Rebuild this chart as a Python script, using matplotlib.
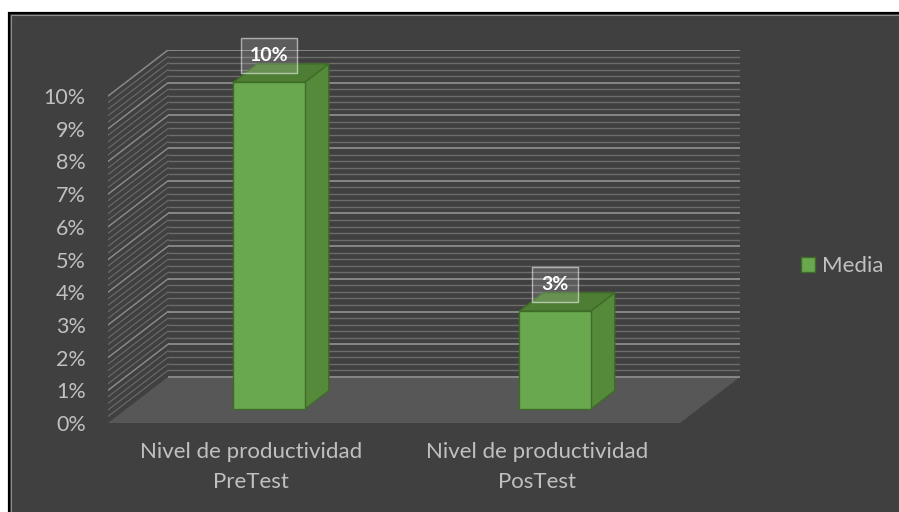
import matplotlib
matplotlib.use("Agg")
import matplotlib.pyplot as plt
from matplotlib.patches import Polygon, Rectangle, Patch

categories = ["Nivel de productividad\nPreTest", "Nivel de productividad\nPosTest"]
media = [10, 3]          # percent
value_labels = ["10%", "3%"]
yticks = list(range(0, 11))
series_name = "Media"

# oblique "3D" look: depth offset of the back wall in data units
DX, DY = 0.21, 1.41
D0, D1 = 0.30, 0.70      # bar front / back depth fractions
BAR_W = 0.25
BG = "#404040"
TXT = "#c0c0c0"
FRONT, SIDE, TOP, EDGE = "#6aa84f", "#558a3a", "#4e7d34", "#3e6b27"
FS = 16

plt.rcParams["font.family"] = ["Lato", "DejaVu Sans"]

fig = plt.figure(figsize=(8.99, 5.12), dpi=100, facecolor="white")
# chart area with a dark fill and a thin black frame
fig.patches.append(Rectangle((9 / 899, -0.01), 1.1, 1 - 13 / 512 + 0.01, transform=fig.transFigure,
                             facecolor=BG, edgecolor="black", lw=1.6, zorder=-2))
fig.patches.append(Rectangle((10.5 / 899, -0.01), 1.1, 1 - 14.5 / 512 + 0.01, transform=fig.transFigure,
                             facecolor="none", edgecolor="#8c8c8c", lw=0.8, zorder=-1))

ax = fig.add_axes([108 / 899, 89 / 512, 632 / 899, 373 / 512])
ax.set_facecolor("none")
ax.set_xlim(-0.5, 1.5 + DX)
ax.set_ylim(0, 10 + DY)
for s in ax.spines.values():
    s.set_visible(False)

# floor
ax.add_patch(Polygon([(-0.5, 0), (1.5, 0), (1.5 + DX, DY), (-0.5 + DX, DY)],
                     closed=True, facecolor="#575757", edgecolor="none", zorder=1))

# gridlines on back wall and left side wall (minor every 0.2 %, major every 1 %)
n = 50
for i in range(n + 1):
    v = i * 0.2
    major = i % 5 == 0
    col = "#8c8c8c" if major else "#6c6c6c"
    lw = 1.3 if major else 1.0
    ax.plot([-0.5 + DX, 1.5 + DX], [v + DY, v + DY], color=col, lw=lw, zorder=2,
            solid_capstyle="butt")
    if i > 0:
        ax.plot([-0.5, -0.5 + DX], [v, v + DY], color=col, lw=lw * 0.8, zorder=2)

# bars
for i, (val, lab) in enumerate(zip(media, value_labels)):
    x0 = i - BAR_W / 2
    x1 = i + BAR_W / 2
    fx, fy = D0 * DX, D0 * DY
    bx, by = D1 * DX, D1 * DY
    side = [(x1 + fx, fy), (x1 + bx, by), (x1 + bx, val + by), (x1 + fx, val + fy)]
    top = [(x0 + fx, val + fy), (x1 + fx, val + fy), (x1 + bx, val + by), (x0 + bx, val + by)]
    front = [(x0 + fx, fy), (x1 + fx, fy), (x1 + fx, val + fy), (x0 + fx, val + fy)]
    ax.add_patch(Polygon(side, closed=True, facecolor=SIDE, edgecolor=EDGE, lw=1, zorder=3))
    ax.add_patch(Polygon(top, closed=True, facecolor=TOP, edgecolor=EDGE, lw=1, zorder=3))
    ax.add_patch(Polygon(front, closed=True, facecolor=FRONT, edgecolor=EDGE, lw=1, zorder=4))
    ax.text(i + fx, val + fy + 0.82, lab, ha="center", va="center", color="white",
            fontsize=14, fontweight="bold", zorder=6,
            bbox=dict(boxstyle="square,pad=0.47", facecolor=(1, 1, 1, 0.15),
                      edgecolor=(1, 1, 1, 0.55), lw=1))

ax.set_yticks(yticks)
ax.set_yticklabels([f"{t}%" for t in yticks])
ax.set_xticks(range(len(categories)))
ax.set_xticklabels(categories, linespacing=1.58)
ax.tick_params(axis="y", length=0, pad=16, labelcolor=TXT, labelsize=FS - 0.5)
ax.tick_params(axis="x", length=0, pad=14, labelcolor=TXT, labelsize=FS)

fig.legend(handles=[Patch(facecolor=FRONT, edgecolor=EDGE, label=series_name)],
           loc="center left", bbox_to_anchor=(781 / 899, 1 - 266 / 512), frameon=False,
           handlelength=0.65, handleheight=0.65, handletextpad=0.3, fontsize=FS,
           labelcolor=TXT)

fig.savefig("out.png", dpi=100, facecolor="white")
